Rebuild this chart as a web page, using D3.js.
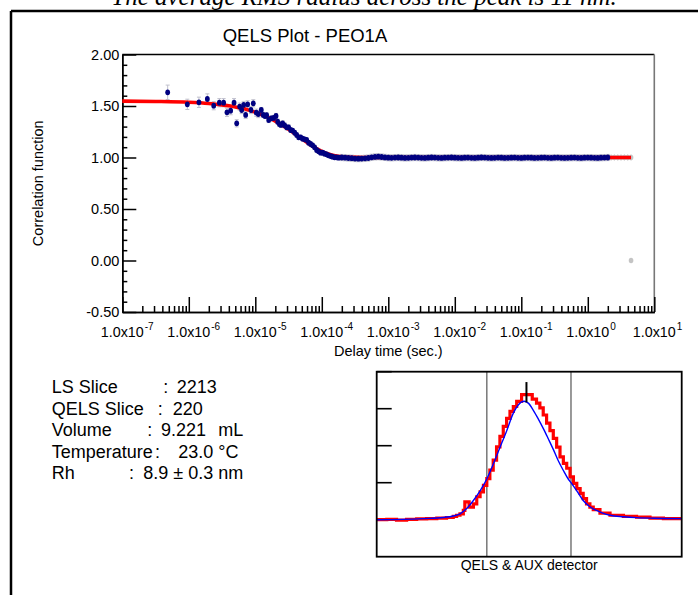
<!DOCTYPE html>
<html><head><meta charset="utf-8">
<script src="https://cdn.jsdelivr.net/npm/d3@7"></script>
<style>
html,body{margin:0;padding:0;background:#fff;}
svg{display:block;}
text{font-family:"Liberation Sans",Arial,sans-serif;fill:#000;}
</style></head><body>
<svg id="c" width="698" height="595"></svg>
<script>
// ---------- DATA ----------
const caption = "The average RMS radius across the peak is 11 nm.";
const chartTitle = "QELS Plot - PEO1A";
const xTitle = "Delay time (sec.)";
const yTitle = "Correlation function";

const decayTau = [4.81e-7,9.5e-7,1.42e-6,1.90e-6,2.37e-6,2.88e-6,3.34e-6,3.75e-6,4.26e-6,4.79e-6,
  5.25e-6,5.82e-6,6.24e-6,6.68e-6,7.16e-6,7.67e-6,8.61e-6,9.33e-6,1.035e-5,1.11e-5,
  1.23e-5,1.32e-5,1.40e-5,1.48e-5,1.59e-5,1.74e-5,1.89e-5,2.05e-5,2.17e-5,2.30e-5,
  2.43e-5,2.58e-5,2.76e-5,2.96e-5,3.17e-5,3.40e-5,3.64e-5,3.91e-5,4.19e-5,4.49e-5,
  4.81e-5,5.15e-5,5.52e-5,5.92e-5,6.34e-5,6.79e-5,7.28e-5,7.80e-5,8.36e-5,8.95e-5,
  9.59e-5,1.03e-4,1.10e-4,1.18e-4,1.26e-4,1.36e-4,1.45e-4,1.56e-4,1.67e-4,1.79e-4];
const decayG = [1.633,1.516,1.536,1.568,1.503,1.532,1.532,1.439,1.455,1.532,
  1.332,1.494,1.461,1.510,1.413,1.516,1.461,1.526,1.435,1.422,
  1.461,1.413,1.403,1.410,1.364,1.380,1.384,1.403,1.348,1.325,
  1.316,1.332,1.312,1.293,1.293,1.267,1.261,1.241,1.219,1.196,
  1.196,1.183,1.176,1.170,1.144,1.131,1.118,1.099,1.073,1.060,
  1.047,1.047,1.037,1.031,1.021,1.014,1.008,1.002,1.002,0.998];
const decayErr = [0.07,0.05,0.05,0.05,0.04,0.04,0.04,0.04,0.04,0.04,
  0.035,0.035,0.035,0.035,0.035,0.035,0.035,0.035,0.035,0.035,
  0.025,0.025,0.025,0.025,0.025,0.025,0.025,0.025,0.025,0.025,
  0.025,0.025,0.025,0.025,0.025,0.02,0.02,0.02,0.02,0.02,
  0.02,0.02,0.02,0.02,0.02,0.02,0.02,0.02,0.02,0.02,
  0.02,0.02,0.02,0.02,0.02,0.02,0.02,0.02,0.02,0.02];

const flatTau = [2.00e-4,2.24e-4,2.51e-4,2.82e-4,3.16e-4,3.55e-4,3.98e-4,4.47e-4,5.01e-4,5.62e-4,6.31e-4,7.08e-4,7.94e-4,8.91e-4,
  1.00e-3,1.12e-3,1.26e-3,1.41e-3,1.58e-3,1.78e-3,2.00e-3,2.24e-3,2.51e-3,2.82e-3,3.16e-3,3.55e-3,3.98e-3,4.47e-3,5.01e-3,5.62e-3,
  6.31e-3,7.08e-3,7.94e-3,8.91e-3,1.00e-2,1.12e-2,1.26e-2,1.41e-2,1.58e-2,1.78e-2,2.00e-2,2.24e-2,2.51e-2,2.82e-2,3.16e-2,3.55e-2,
  3.98e-2,4.47e-2,5.01e-2,5.62e-2,6.31e-2,7.08e-2,7.94e-2,8.91e-2,1.00e-1,1.12e-1,1.26e-1,1.41e-1,1.58e-1,1.78e-1,2.00e-1,2.24e-1,
  2.51e-1,2.82e-1,3.16e-1,3.55e-1,3.98e-1,4.47e-1,5.01e-1,5.62e-1,6.31e-1,7.08e-1,7.94e-1,8.91e-1,1.00,1.12,1.26,1.41,1.58,1.78,2.00];
const flatG = [1.000,0.998,0.995,0.993,0.990,0.989,0.990,0.992,0.995,1.002,1.006,1.008,1.005,1.001,
  0.998,0.997,0.999,1.000,0.998,0.996,0.997,0.999,1.000,0.999,0.997,0.996,0.998,1.000,0.999,0.997,
  0.996,0.998,0.999,1.000,0.998,0.997,0.996,0.998,0.999,0.997,0.996,0.998,1.000,0.999,0.997,0.996,
  0.997,0.999,0.998,0.996,0.997,0.998,0.999,0.997,0.996,0.998,0.999,0.998,0.996,0.997,0.998,0.999,
  0.997,0.996,0.998,0.999,0.997,0.996,0.997,0.998,0.999,0.997,0.996,0.998,0.999,0.998,0.997,0.996,0.998,0.999,1.000];
const flatErr = 0.03;

const excludedTau = [2.24,2.51,2.82,3.16,3.55,3.98,4.47];
const excludedG   = [1.0,1.0,1.0,1.0,1.0,1.0,1.0];
const outlierTau = [4.47];
const outlierG = [0.0];

const fitTau = [1e-7,3.16e-7,1e-6,2e-6,3.16e-6,3.98e-6,5.01e-6,6.31e-6,7.94e-6,1e-5,1.26e-5,1.585e-5,2e-5,2.51e-5,3.16e-5,
  3.98e-5,5.01e-5,6.31e-5,7.94e-5,1e-4,1.26e-4,1.585e-4,2e-4,2.51e-4,3.16e-4,5e-4,1e-3,1e-2,1e-1,1,4.47];
const fitG = [1.547,1.544,1.536,1.524,1.511,1.502,1.491,1.477,1.460,1.440,1.415,1.386,1.353,1.315,1.273,
  1.228,1.181,1.136,1.095,1.060,1.034,1.017,1.007,1.002,1.001,1.000,1.000,1.000,1.000,1.000,1.000];

const yTicks = [-0.5,0,0.5,1.0,1.5,2.0];
const yMinor = [-0.4,-0.3,-0.2,-0.1,0.1,0.2,0.3,0.4,0.6,0.7,0.8,0.9,1.1,1.2,1.3,1.4,1.6,1.7,1.8,1.9];
const xExponents = [-7,-6,-5,-4,-3,-2,-1,0,1];

const infoLabels = ["LS Slice","QELS Slice","Volume","Temperature","Rh"];
const infoValues = ["2213","220","9.221","23.0","8.9 \u00b1 0.3 nm"];
const infoUnits  = ["","","mL","\u00b0C",""];

const insetLabel = "QELS & AUX detector";
const redVol = [8.730,8.763,8.795,8.828,8.861,8.894,8.927,8.959,8.981,8.992,9.003,9.014,9.019,9.033,9.047,9.058,9.069,9.080,9.091,9.101,
  9.112,9.123,9.134,9.145,9.156,9.167,9.178,9.189,9.205,9.240,9.254,9.265,9.276,9.287,9.298,9.309,9.320,9.331,9.342,9.353,
  9.364,9.375,9.386,9.397,9.407,9.418,9.429,9.440,9.462,9.495,9.539,9.582,9.626,9.670,9.730];
const redVal = [0.00,0.01,-0.01,0.01,0.02,0.03,0.04,0.06,0.09,0.12,0.16,0.25,0.48,0.34,0.43,0.62,0.75,0.93,1.11,1.34,
  1.61,1.97,2.25,2.52,2.74,2.93,3.06,3.20,3.38,3.26,3.15,3.02,2.83,2.61,2.41,2.20,1.96,1.70,1.52,1.39,
  1.16,0.98,0.84,0.71,0.57,0.43,0.34,0.27,0.18,0.12,0.09,0.07,0.04,0.03,0.03];
const blueVol = [8.730,8.817,8.883,8.948,8.981,9.003,9.025,9.047,9.069,9.091,9.112,9.134,9.156,9.178,9.194,9.213,9.227,9.244,
  9.260,9.276,9.293,9.309,9.325,9.342,9.358,9.367,9.386,9.407,9.429,9.451,9.473,9.495,9.539,9.582,9.637,9.730];
const blueVal = [0.00,0.01,0.03,0.06,0.10,0.16,0.30,0.52,0.78,1.10,1.50,1.95,2.40,2.88,3.10,3.20,3.15,2.95,
  2.72,2.47,2.18,1.90,1.60,1.33,1.10,1.00,0.78,0.52,0.35,0.25,0.17,0.12,0.08,0.055,0.04,0.03];
const peakLimits = [9.091, 9.367];
const currentVol = 9.221;
const insetTicks = [0,1,2,3,4];

// ---------- DRAW ----------
const svg = d3.select("#c");

// page frame
svg.append("line").attr("x1",11).attr("x2",698).attr("y1",11).attr("y2",11).attr("stroke","#000").attr("stroke-width",2.5);
svg.append("line").attr("x1",11).attr("x2",11).attr("y1",11).attr("y2",595).attr("stroke","#000").attr("stroke-width",2.5);

// caption (cut off at top, as in the reference)
svg.append("text").attr("x",364).attr("y",5).attr("text-anchor","middle")
  .style("font-family","'Liberation Serif','Times New Roman',serif").style("font-style","italic").style("font-size","25px")
  .text(caption);

// main plot
const L=122.3, R=654.3, T=54.5, B=312;
const x = d3.scaleLog().domain([1e-7,1e1]).range([L,R]);
const y = d3.scaleLinear().domain([-0.5,2.0]).range([B,T]);

svg.append("text").attr("x",305).attr("y",42).attr("text-anchor","middle").style("font-size","18.5px").text(chartTitle);

// box top & right
svg.append("line").attr("x1",L).attr("x2",R).attr("y1",T).attr("y2",T).attr("stroke","#000").attr("stroke-width",1.6);
svg.append("line").attr("x1",R).attr("x2",R).attr("y1",T).attr("y2",B).attr("stroke","#777").attr("stroke-width",1.6);

// y axis
const gy = svg.append("g").attr("transform",`translate(${L},0)`);
gy.call(d3.axisLeft(y).tickValues(yTicks).tickSize(-14).tickSizeOuter(0).tickPadding(3).tickFormat(d=>d.toFixed(2)));
gy.call(g=>g.selectAll(".tick text").style("font-size","14.5px").style("font-family","'Liberation Sans',Arial,sans-serif"));
const gyMinor = svg.append("g").attr("transform",`translate(${L},0)`);
gyMinor.call(d3.axisLeft(y).tickValues(yMinor).tickSize(-5).tickSizeOuter(0).tickFormat(""));
[gy,gyMinor].forEach(g=>{g.selectAll("line,path").attr("stroke","#000").attr("stroke-width",1.5);});

// x axis
const gx = svg.append("g").attr("transform",`translate(0,${B})`);
gx.call(d3.axisBottom(x).tickValues(xExponents.map(e=>Math.pow(10,e))).tickSize(-15).tickSizeOuter(0).tickFormat(""));
const minorX = x.ticks().filter(v=>Math.abs(Math.log10(v)-Math.round(Math.log10(v)))>1e-6);
const gxMinor = svg.append("g").attr("transform",`translate(0,${B})`);
gxMinor.call(d3.axisBottom(x).tickValues(minorX).tickSize(-6).tickSizeOuter(0).tickFormat(""));
[gx,gxMinor].forEach(g=>{g.selectAll("line,path").attr("stroke","#000").attr("stroke-width",1.5);});

// x tick labels with superscripts
xExponents.forEach(e=>{
  const px = x(Math.pow(10,e));
  const base = svg.append("text").attr("x",px).attr("y",336.5).attr("text-anchor","middle").style("font-size","14.3px").text("1.0x10");
  const w = base.node().getComputedTextLength();
  svg.append("text").attr("x",px+w/2+1).attr("y",330).style("font-size","10px").text(String(e));
});

svg.append("text").attr("x",(L+R)/2).attr("y",356).attr("text-anchor","middle").style("font-size","14.5px").text(xTitle);
svg.append("text").attr("transform",`translate(43,${(T+B)/2}) rotate(-90)`).attr("text-anchor","middle").style("font-size","14.5px").text(yTitle);

// points data
const pts = decayTau.map((t,i)=>({t,g:decayG[i],e:decayErr[i]}))
  .concat(flatTau.map((t,i)=>({t,g:flatG[i],e:flatErr})));
const excl = excludedTau.map((t,i)=>({t,g:excludedG[i],e:flatErr})).concat(outlierTau.map((t,i)=>({t,g:outlierG[i],e:0})));

const plotG = svg.append("g");
// excluded (grey)
plotG.selectAll(".exe").data(excl.filter(d=>d.e>0)).enter().append("line")
  .attr("x1",d=>x(d.t)).attr("x2",d=>x(d.t)).attr("y1",d=>y(d.g-d.e)).attr("y2",d=>y(d.g+d.e))
  .attr("stroke","#d0d0d0").attr("stroke-width",1);
plotG.selectAll(".exd").data(excl).enter().append("ellipse")
  .attr("cx",d=>x(d.t)).attr("cy",d=>y(d.g)).attr("rx",2.3).attr("ry",2.8).attr("fill","#c4c4c4");
// error bars
plotG.selectAll(".eb").data(pts).enter().append("path")
  .attr("d",d=>{const X=x(d.t),y1=y(d.g-d.e),y2=y(d.g+d.e);return `M${X},${y1}V${y2}M${X-2},${y1}H${X+2}M${X-2},${y2}H${X+2}`;})
  .attr("stroke","#c0c0cc").attr("stroke-width",1).attr("fill","none");
// fit line
const fit = fitTau.map((t,i)=>({t,g:fitG[i]}));
plotG.append("path").datum(fit).attr("fill","none").attr("stroke","#ff0000").attr("stroke-width",3.6)
  .attr("d",d3.line().x(d=>x(d.t)).y(d=>y(d.g)).curve(d3.curveMonotoneX));
// blue dots
plotG.selectAll(".pt").data(pts).enter().append("ellipse")
  .attr("cx",d=>x(d.t)).attr("cy",d=>y(d.g)).attr("rx",2.4).attr("ry",2.9).attr("fill","#000080");

// info text
const infoX = 51.7;
const colonX = [163.3,157.7,147.3,155,129];
const valX = [176.7,172.7,161,178.3,143.3];
const unitX = [0,0,218.3,218.3,0];
const baseY = [393.3,414.7,436.2,457.7,479.2];
infoLabels.forEach((lab,i)=>{
  const g = svg.append("g").style("font-size","18px");
  g.append("text").attr("x",infoX).attr("y",baseY[i]).text(lab);
  g.append("text").attr("x",colonX[i]).attr("y",baseY[i]).text(":");
  g.append("text").attr("x",valX[i]).attr("y",baseY[i]).text(infoValues[i]);
  if(infoUnits[i]) g.append("text").attr("x",unitX[i]).attr("y",baseY[i]).text(infoUnits[i]);
});

// inset
const iL=376.7, iR=681.7, iT=371.7, iB=556.7;
const xi = d3.scaleLinear().domain([8.73,9.73]).range([iL,iR]);
const yi = d3.scaleLinear().domain([-1,4]).range([iB,iT]);
svg.append("defs").append("clipPath").attr("id","ic").append("rect").attr("x",iL).attr("y",iT).attr("width",iR-iL).attr("height",iB-iT);
const ig = svg.append("g");
ig.selectAll(".it").data(insetTicks).enter().append("line")
  .attr("x1",iL).attr("x2",iL+15).attr("y1",d=>yi(d)).attr("y2",d=>yi(d)).attr("stroke","#000").attr("stroke-width",1.6);
ig.selectAll(".pl").data(peakLimits).enter().append("line")
  .attr("x1",d=>xi(d)).attr("x2",d=>xi(d)).attr("y1",iT).attr("y2",iB).attr("stroke","#777").attr("stroke-width",1.5);
const cg = ig.append("g").attr("clip-path","url(#ic)");
const red = redVol.map((v,i)=>({v,a:redVal[i]}));
cg.append("path").datum(red).attr("fill","none").attr("stroke","#ff0000").attr("stroke-width",3.2)
  .attr("d",d3.line().x(d=>xi(d.v)).y(d=>yi(d.a)).curve(d3.curveStepAfter));
const blue = blueVol.map((v,i)=>({v,a:blueVal[i]}));
cg.append("path").datum(blue).attr("fill","none").attr("stroke","#0000ff").attr("stroke-width",1.4)
  .attr("d",d3.line().x(d=>xi(d.v)).y(d=>yi(d.a)).curve(d3.curveMonotoneX));
ig.append("line").attr("x1",xi(currentVol)).attr("x2",xi(currentVol)).attr("y1",yi(3.72)).attr("y2",yi(3.17))
  .attr("stroke","#000").attr("stroke-width",2);
ig.append("rect").attr("x",iL).attr("y",iT).attr("width",iR-iL).attr("height",iB-iT)
  .attr("fill","none").attr("stroke","#000").attr("stroke-width",1.8);
svg.append("text").attr("x",(iL+iR)/2).attr("y",570).attr("text-anchor","middle").style("font-size","14px").text(insetLabel);
</script>
</body></html>
